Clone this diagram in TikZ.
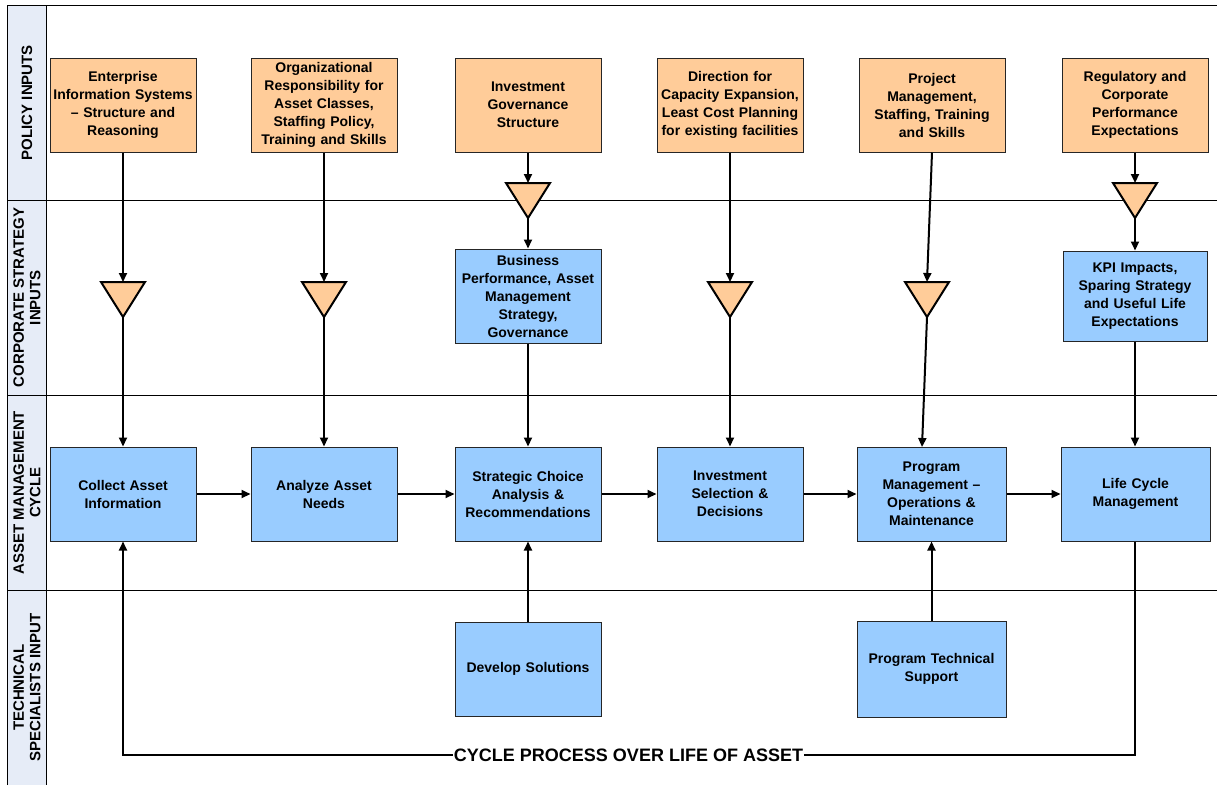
\documentclass[tikz,border=0pt]{standalone}
\usepackage{fontspec}
\setmainfont{Liberation Sans}
\usetikzlibrary{arrows.meta}

\definecolor{policyfill}{HTML}{FFCC99}
\definecolor{actfill}{HTML}{99CCFF}
\definecolor{lanefill}{HTML}{E6ECF7}

\tikzset{
  box/.style={draw=black!85, line width=1pt, minimum width=146pt, minimum height=94pt,
              text width=140pt, align=center, inner sep=0pt,
              font=\bfseries\fontsize{14}{18}\selectfont},
  policy/.style={box, fill=policyfill},
  act/.style={box, fill=actfill},
  link/.style={line width=2pt, -{Triangle[length=9pt,width=8pt]}},
  plain/.style={line width=2pt},
  tribox/.style={minimum width=44pt, minimum height=35pt, inner sep=0pt, outer sep=0pt},
  tri/.style={draw=black, line width=2pt, fill=policyfill, line join=miter},
  laneline/.style={line width=1pt, draw=black},
  lanelabel/.style={rotate=90, align=center, font=\bfseries\fontsize{15}{16.5}\selectfont},
  cyclelabel/.style={fill=white, inner xsep=1pt, inner ysep=2pt,
                     font=\bfseries\fontsize{18}{20}\selectfont}
}

\begin{document}
\begin{tikzpicture}[x=1pt, y=-1pt]
\useasboundingbox (0,0) rectangle (1217,785);

% swimlane frame
\fill[lanefill] (7,5) rectangle (46,785);
\draw[laneline] (7,785) -- (7,5) -- (1217,5);
\draw[laneline] (46,5) -- (46,785);
\foreach \y in {200,395,590} \draw[laneline] (7,\y) -- (1217,\y);

\node[lanelabel] (l1) at (27,102.5) {POLICY INPUTS};
\node[lanelabel] (l2) at (27,297.5) {CORPORATE STRATEGY\\INPUTS};
\node[lanelabel] (l3) at (27,492.5) {ASSET MANAGEMENT\\CYCLE};
\node[lanelabel] (l4) at (27,687.5) {TECHNICAL\\SPECIALISTS INPUT};

% policy inputs
\node[policy] (p1) at (123,105) {Enterprise\\Information Systems\\– Structure and\\Reasoning};
\node[policy] (p2) at (324,105) {Organizational\\Responsibility for\\Asset Classes,\\Staffing Policy,\\Training and Skills};
\node[policy] (p3) at (528,105) {Investment\\Governance\\Structure};
\node[policy] (p4) at (730,105) {Direction for\\Capacity Expansion,\\Least Cost Planning\\for existing facilities};
\node[policy] (p5) at (932,105) {Project\\Management,\\Staffing, Training\\and Skills};
\node[policy] (p6) at (1135,105) {Regulatory and\\Corporate\\Performance\\Expectations};

% corporate strategy inputs
\node[act] (c3) at (528,296) {Business\\Performance, Asset\\Management\\Strategy,\\Governance};
\node[act, minimum width=144pt, minimum height=90pt] (c6) at (1135,296) {KPI Impacts,\\Sparing Strategy\\and Useful Life\\Expectations};

% asset management cycle
\node[act] (a1) at (123,494) {Collect Asset\\Information};
\node[act] (a2) at (324,494) {Analyze Asset\\Needs};
\node[act] (a3) at (528,494) {Strategic Choice\\Analysis \&\\Recommendations};
\node[act] (a4) at (730,494) {Investment\\Selection \&\\Decisions};
\node[act, minimum width=149pt] (a5) at (931.5,494) {Program\\Management –\\Operations \&\\Maintenance};
\node[act, minimum width=149pt] (a6) at (1135.5,494) {Life Cycle\\Management};

% technical specialists input
\node[act] (d3) at (528,669) {Develop Solutions};
\node[act, minimum width=149pt, minimum height=96pt] (s5) at (931.5,669) {Program Technical\\Support};

% merge triangles
\node[tribox] (t1) at (123,299.5) {};
\node[tribox] (t2) at (324,299.5) {};
\node[tribox] (t3) at (528,200.5) {};
\node[tribox] (t4) at (730,299.5) {};
\node[tribox] (t5) at (927,299.5) {};
\node[tribox] (t6) at (1135,200.5) {};
\foreach \t in {t1,t2,t3,t4,t5,t6}
  \draw[tri] (\t.north west) -- (\t.north east) -- (\t.south) -- cycle;

% policy -> triangles
\draw[link] (p1) -- (t1.north);
\draw[link] (p2) -- (t2.north);
\draw[link] (p3) -- (t3.north);
\draw[link] (p4) -- (t4.north);
\draw[link] (p5.south) -- (t5.north);
\draw[link] (p6) -- (t6.north);

% triangles -> next step
\draw[link] (t1.south) -- (a1.north);
\draw[link] (t2.south) -- (a2.north);
\draw[link] (t3.south) -- (c3.north);
\draw[link] (t4.south) -- (a4.north);
\coordinate (a5in) at (922,447);
\draw[link] (t5.south) -- (a5in);
\draw[link] (t6.south) -- (c6.north);
\draw[link] (c3) -- (a3);
\draw[link] (c6) -- (a6.north -| c6);

% cycle steps
\draw[link] (a1) -- (a2);
\draw[link] (a2) -- (a3);
\draw[link] (a3) -- (a4);
\draw[link] (a4) -- (a5);
\draw[link] (a5) -- (a6);

% technical support
\draw[link] (d3) -- (a3);
\draw[link] (s5) -- (a5);

% loop back over the life of the asset
\coordinate (loop) at (628.5,755);
\draw[link] (a6.south -| c6) |- (loop) -| (a1.south);
\node[cyclelabel] (cl) at (loop) {CYCLE PROCESS OVER LIFE OF ASSET};
\end{tikzpicture}
\end{document}
